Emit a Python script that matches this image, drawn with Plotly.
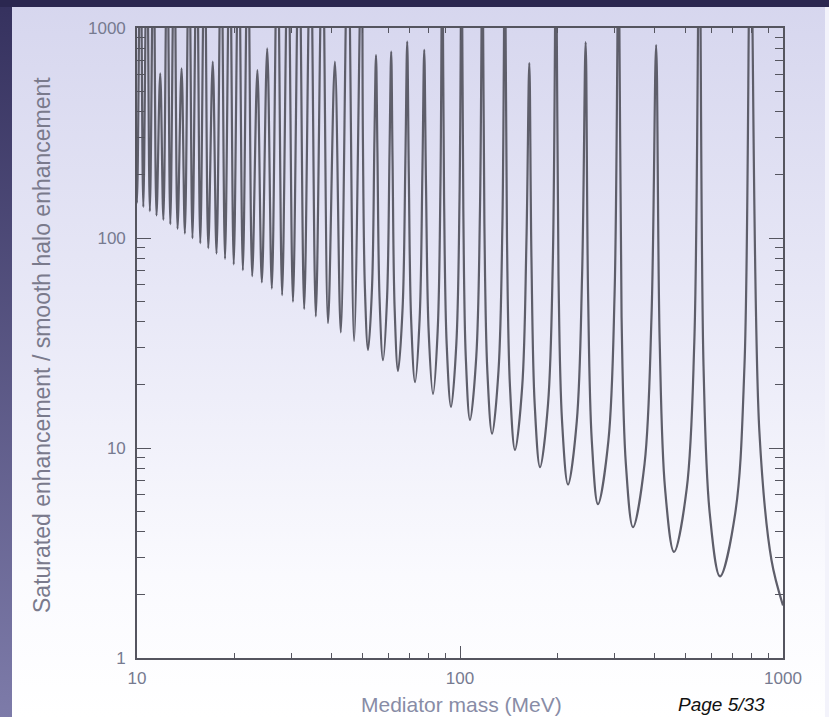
import base64
import plotly.graph_objects as go

# ---------------- data ----------------
# resonance peaks (MeV) and their drawn heights (3000 = runs off the top of the axis)
peak_mass = [9.80, 10.25, 10.73, 11.25, 11.80, 12.40, 13.04, 13.74, 14.49, 15.31,
             16.19, 17.16, 18.22, 19.37, 20.64, 22.04, 23.59, 25.30, 27.21, 29.34,
             31.74, 34.44, 37.50, 40.99, 44.98, 49.59, 54.95, 61.23, 68.64, 77.49,
             88.16, 101.2, 117.4, 137.8, 163.9, 198.4, 244.9, 310.0, 404.8, 551.0, 793.5]
peak_height = [3000, 3000, 3000, 3000, 608, 3000, 3000, 643, 3000, 3000,
               3000, 692, 3000, 3000, 3000, 3000, 631, 800, 3000, 3000,
               3000, 3000, 3000, 692, 3000, 3000, 743, 771, 861, 786,
               3000, 3000, 3000, 3000, 681, 3000, 857, 3000, 830, 3000, 3000]

# trough minima between resonances
min_mass = [10.00, 10.46, 10.96, 11.49, 12.07, 12.68, 13.35, 14.07, 14.85, 15.70,
            16.62, 17.63, 18.73, 19.93, 21.27, 22.73, 24.35, 26.15, 28.14, 30.40,
            32.93, 35.78, 39.03, 42.75, 47.00, 51.92, 57.76, 64.28, 72.57, 82.50,
            93.79, 107.4, 125.7, 148.0, 176.9, 216.0, 267.4, 343.2, 459.8, 638.1, 1000]
min_value = [146.6, 140.3, 134.1, 128.0, 122.0, 116.3, 110.6, 105.0, 99.7, 94.4,
             89.3, 84.3, 79.5, 74.8, 70.2, 65.8, 61.5, 57.4, 53.4, 49.6,
             45.8, 42.3, 39.3, 35.5, 32.4, 29.3, 26.2, 23.3, 20.6, 18.1,
             15.7, 13.6, 11.7, 9.8, 8.1, 6.7, 5.4, 4.2, 3.2, 2.45, 1.78]

# walls of the wide troughs on the right (upper and lower points on each side)
outer_left_mass = [50.05, 55.50, 61.83, 69.41, 78.47, 89.26, 102.4, 119.0, 139.8, 166.4,
                   201.8, 249.2, 316.4, 415.2, 567.5, 845.0]
outer_left_value = [293, 262, 233, 206, 181, 157, 136, 117, 98, 81, 67, 54, 42, 32, 24.5, 12]
inner_left_mass = [50.75, 56.34, 62.74, 70.58, 79.96, 90.93, 104.2, 121.5, 142.8, 170.3,
                   207.0, 255.9, 326.2, 431.4, 593.1, 921.0]
inner_left_value = [58.6, 52.4, 46.6, 41.2, 36.2, 31.4, 27.2, 23.4, 19.6, 16.2,
                    13.4, 10.8, 8.4, 6.4, 4.9, 2.93]
inner_right_mass = [53.42, 59.47, 66.43, 74.99, 85.29, 97.43, 112.3, 131.6, 155.8, 187.3,
                    229.9, 288.0, 372.7, 503.4, 711.5]
inner_right_value = [58.6, 52.4, 46.6, 41.2, 36.2, 31.4, 27.2, 23.4, 19.6, 16.2,
                     13.4, 10.8, 8.4, 6.4, 4.9]
outer_right_mass = [54.33, 60.52, 67.75, 76.49, 87.00, 99.67, 115.3, 135.3, 160.6, 193.9,
                    238.8, 301.0, 391.6, 531.4, 759.7]
outer_right_value = [293, 262, 233, 206, 181, 157, 136, 117, 98, 81, 67, 54, 42, 32, 24.5]

x_tick_vals = [10, 100, 1000]
x_tick_text = ["10", "100", "1000"]
y_tick_vals = [1, 10, 100, 1000]
y_tick_text = ["1", "10", "100", "1000"]
minor_vals = [2, 3, 4, 5, 6, 7, 8, 9, 20, 30, 40, 50, 60, 70, 80, 90,
              200, 300, 400, 500, 600, 700, 800, 900]

x_title = "Mediator mass (MeV)"
y_title = "Saturated enhancement / smooth halo enhancement"
page_label = "Page 5/33"

# ---------------- assemble curve ----------------
pts = []
for xs, ys in [(peak_mass, peak_height), (min_mass, min_value),
               (outer_left_mass, outer_left_value), (inner_left_mass, inner_left_value),
               (inner_right_mass, inner_right_value), (outer_right_mass, outer_right_value)]:
    pts.extend(zip(xs, ys))
pts.sort(key=lambda p: p[0])
cx = [p[0] for p in pts]
cy = [p[1] for p in pts]

fig = go.Figure()
fig.add_trace(go.Scatter(x=cx, y=cy, mode="lines",
                         line=dict(color="#5e5e6a", width=2.2, shape="spline", smoothing=1.0),
                         showlegend=False, hoverinfo="skip"))

# ---------------- slide background ----------------
svg = """<svg xmlns='http://www.w3.org/2000/svg' width='829' height='717' viewBox='0 0 829 717' preserveAspectRatio='none'>
<defs>
<linearGradient id='p' x1='0' y1='0' x2='0' y2='1'>
<stop offset='0' stop-color='#d6d6ee'/>
<stop offset='0.45' stop-color='#e9e9f7'/>
<stop offset='0.8' stop-color='#fafafe'/>
<stop offset='1' stop-color='#ffffff'/>
</linearGradient>
<linearGradient id='l' x1='0' y1='0' x2='0' y2='1'>
<stop offset='0' stop-color='#35315e'/>
<stop offset='1' stop-color='#7d7ba9'/>
</linearGradient>
</defs>
<rect x='0' y='0' width='829' height='717' fill='url(#p)'/>
<rect x='0' y='0' width='12' height='717' fill='url(#l)'/>
<rect x='0' y='0' width='829' height='7' fill='#2b2750'/>
<rect x='825' y='7' width='4' height='710' fill='#f3f3fb'/>
</svg>"""
src = "data:image/svg+xml;base64," + base64.b64encode(svg.encode()).decode()

W, H = 829, 717
ml, mr, mt, mb = 137, 46, 28, 59
pw, ph = W - ml - mr, H - mt - mb

fig.add_layout_image(dict(source=src, xref="paper", yref="paper",
                          x=-ml / pw, y=1 + mt / ph, sizex=W / pw, sizey=H / ph,
                          xanchor="left", yanchor="top", sizing="stretch", layer="below"))

font_family = "Liberation Sans, Arial, Helvetica, sans-serif"
axis_common = dict(type="log", showgrid=False, zeroline=False, showline=True,
                   linecolor="#55555f", linewidth=1.6, mirror="ticks",
                   ticks="inside", tickcolor="#55555f", tickwidth=1.4,
                   tickfont=dict(family=font_family, size=17, color="#767a90"))

fig.update_xaxes(**axis_common, range=[1, 3], tickvals=x_tick_vals, ticktext=x_tick_text,
                 ticklen=12, ticklabelstandoff=4,
                 minor=dict(tickvals=minor_vals, ticks="inside", ticklen=5,
                            tickcolor="#55555f", tickwidth=1.2, showgrid=False))
fig.update_yaxes(**axis_common, range=[0, 3], tickvals=y_tick_vals, ticktext=y_tick_text,
                 ticklen=14, ticklabelstandoff=6,
                 minor=dict(tickvals=minor_vals, ticks="inside", ticklen=8,
                            tickcolor="#55555f", tickwidth=1.2, showgrid=False))

fig.add_annotation(text=x_title, xref="paper", yref="paper",
                   x=(461 - ml) / pw, y=(mt + ph - 704) / ph, xanchor="center", yanchor="middle",
                   showarrow=False, font=dict(family=font_family, size=21, color="#888ca6"))
fig.add_annotation(text=y_title, xref="paper", yref="paper", textangle=-90,
                   x=(42 - ml) / pw, y=(mt + ph - 345) / ph, xanchor="center", yanchor="middle",
                   showarrow=False, font=dict(family=font_family, size=23, color="#7a7a8c"))
fig.add_annotation(text="<i>" + page_label + "</i>", xref="paper", yref="paper",
                   x=(721 - ml) / pw, y=(mt + ph - 704) / ph, xanchor="center", yanchor="middle",
                   showarrow=False, font=dict(family=font_family, size=19, color="#111111"))

fig.update_layout(width=W, height=H, margin=dict(l=ml, r=mr, t=mt, b=mb, autoexpand=False),
                  paper_bgcolor="#ffffff", plot_bgcolor="rgba(0,0,0,0)")

fig.write_html("out.html")
